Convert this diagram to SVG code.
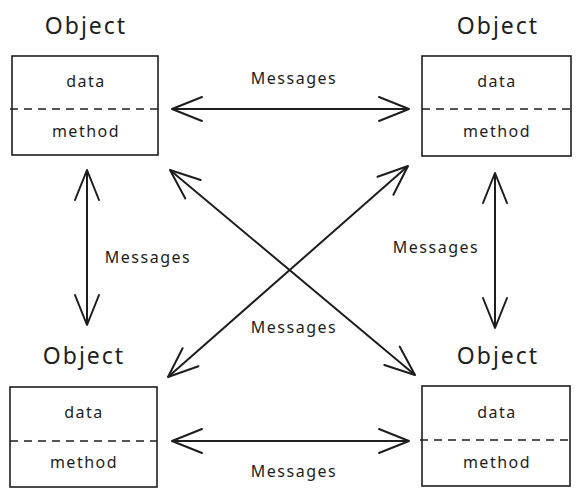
<svg xmlns="http://www.w3.org/2000/svg" width="580" height="496" viewBox="0 0 580 496">
<style>
.box{fill:#fff;stroke:#1e1e1e;stroke-width:1.6}
.dash{stroke:#1e1e1e;stroke-width:1.4;stroke-dasharray:8 6;fill:none}
.title{font-family:"Comic Sans MS","Noto Sans","DejaVu Sans",sans-serif;font-size:23px;letter-spacing:2px;fill:#1e1e1e;text-anchor:middle}
.lbl{font-family:"Comic Sans MS","Noto Sans","DejaVu Sans",sans-serif;font-size:16px;letter-spacing:1.5px;fill:#1e1e1e;text-anchor:middle}
.conn{stroke:#1e1e1e;stroke-width:2;fill:none;marker-start:url(#ah);marker-end:url(#ah)}
</style>
<defs>
<marker id="ah" markerUnits="userSpaceOnUse" markerWidth="40" markerHeight="30" viewBox="-34 -15 40 30" refX="0" refY="0" orient="auto-start-reverse" overflow="visible">
<path d="M-30,-12 L0,0 L-30,12" fill="none" stroke="#1e1e1e" stroke-width="2" stroke-linecap="round" stroke-linejoin="round"/>
</marker>
</defs>
<rect width="580" height="496" fill="#fff"/>
<g id="connectors">
<line class="conn" x1="172" y1="109" x2="409" y2="109"/>
<line class="conn" x1="172" y1="441" x2="409" y2="441"/>
<line class="conn" x1="87" y1="170" x2="87" y2="325"/>
<line class="conn" x1="495" y1="173" x2="495" y2="328"/>
<line class="conn" x1="170" y1="170" x2="415" y2="375"/>
<line class="conn" x1="168" y1="377" x2="408" y2="166"/>
<text class="lbl" x="294" y="84">Messages</text>
<text class="lbl" x="294" y="477">Messages</text>
<text class="lbl" x="148" y="263">Messages</text>
<text class="lbl" x="436" y="253">Messages</text>
<text class="lbl" x="294" y="333">Messages</text>
</g>
<g id="obj-tl">
<text class="title" x="86" y="34">Object</text>
<rect class="box" x="12" y="56" width="146" height="99"/>
<line class="dash" x1="10" y1="109" x2="158" y2="109"/>
<text class="lbl" x="86" y="87">data</text>
<text class="lbl" x="86" y="137">method</text>
</g>
<g id="obj-tr">
<text class="title" x="498" y="34">Object</text>
<rect class="box" x="422" y="56" width="149" height="100"/>
<line class="dash" x1="422" y1="109" x2="571" y2="109"/>
<text class="lbl" x="497" y="87">data</text>
<text class="lbl" x="497" y="137">method</text>
</g>
<g id="obj-bl">
<text class="title" x="84" y="364">Object</text>
<rect class="box" x="10" y="387" width="147" height="100"/>
<line class="dash" x1="10" y1="441" x2="157" y2="441"/>
<text class="lbl" x="84" y="418">data</text>
<text class="lbl" x="84" y="468">method</text>
</g>
<g id="obj-br">
<text class="title" x="498" y="364">Object</text>
<rect class="box" x="422" y="386" width="148" height="100"/>
<line class="dash" x1="420" y1="440" x2="570" y2="440"/>
<text class="lbl" x="497" y="418">data</text>
<text class="lbl" x="497" y="468">method</text>
</g>
</svg>
